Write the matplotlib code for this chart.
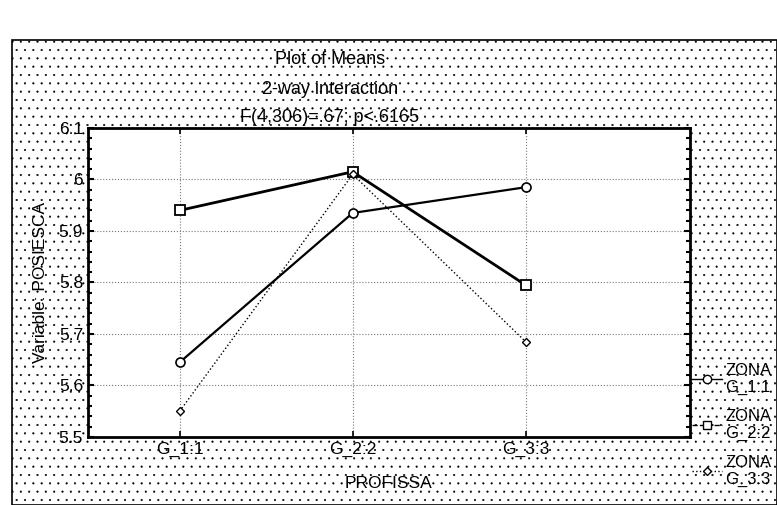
import numpy as np
import matplotlib.pyplot as plt
from matplotlib.patches import Rectangle
from matplotlib.lines import Line2D

# Plot of means data
categories = ['G_1:1', 'G_2:2', 'G_3:3']
zona_1 = [5.645, 5.935, 5.985]
zona_2 = [5.94, 6.015, 5.795]
zona_3 = [5.55, 6.01, 5.685]
series_labels = ['ZONA\nG_1:1', 'ZONA\nG_2:2', 'ZONA\nG_3:3']
y_ticks = [5.5, 5.6, 5.7, 5.8, 5.9, 6.0, 6.1]
y_tick_labels = ['5.5', '5.6', '5.7', '5.8', '5.9', '6', '6.1']

plt.rcParams['font.family'] = ['Liberation Sans', 'DejaVu Sans']
plt.rcParams['hatch.color'] = '#bdbdbd'
plt.rcParams['hatch.linewidth'] = 0.3

fig = plt.figure(figsize=(7.77, 5.05), dpi=100)

# dotted background frame like the scanned Statistica window
bg = Rectangle((12/777, 0.0), 1 - 12/777, 1 - 40/505, transform=fig.transFigure,
               facecolor='white', edgecolor='black', linewidth=1.2,
               hatch='..', zorder=-10)
fig.patches.append(bg)

ax = fig.add_axes([88/777, 1 - 437/505, (690 - 88)/777, (437 - 128)/505])
ax.set_facecolor('white')
x = np.arange(1, len(categories) + 1)

ax.plot(x, zona_1, color='black', lw=1.6, marker='o', ms=6.5, mfc='white', mec='black', mew=1.2, zorder=3)
ax.plot(x, zona_2, color='black', lw=2.0, marker='s', ms=6.5, mfc='white', mec='black', mew=1.3, zorder=3)
ax.plot(x, zona_3, color='black', lw=1.0, ls=':', marker='D', ms=4.5, mfc='white', mec='black', mew=1.0, zorder=3)

ax.set_xlim(0.47, 3.95)
ax.set_ylim(5.5, 6.1)
ax.set_xticks(x)
ax.set_xticklabels(categories, fontsize=12.5)
ax.set_yticks(y_ticks)
ax.set_yticklabels(y_tick_labels, fontsize=12.5)
ax.set_yticks(np.arange(5.5, 6.1001, 0.02), minor=True)
ax.tick_params(axis='y', which='both', direction='in', right=True, length=4, width=1.5)
ax.tick_params(axis='y', which='minor', length=3)
ax.tick_params(axis='x', direction='in', top=True, length=4, width=1.2)
ax.grid(True, color='#777777', ls=':', lw=0.8)
for s in ax.spines.values():
    s.set_linewidth(2.0)

ax.set_ylabel('Variable: POSIESCA', fontsize=12.5, labelpad=8)
ax.set_xlabel('PROFISSA', fontsize=12.5, labelpad=14)

fig.text(330/777, 1 - 60/505, 'Plot of Means', ha='center', va='center', fontsize=13)
fig.text(330/777, 1 - 90/505, '2-way interaction', ha='center', va='center', fontsize=13)
fig.text(330/777, 1 - 117/505, 'F(4,306)=.67; p<.6165', ha='center', va='center', fontsize=13)

handles = [
    Line2D([], [], color='black', lw=1.0, marker='o', ms=6, mfc='white', mec='black'),
    Line2D([], [], color='black', lw=1.0, ls='--', marker='s', ms=6, mfc='white', mec='black'),
    Line2D([], [], color='black', lw=1.0, ls=':', marker='D', ms=4, mfc='white', mec='black'),
]
leg = fig.legend(handles, series_labels, loc='center left', bbox_to_anchor=(692/777, 1 - 425/505),
                 frameon=False, fontsize=12, handlelength=1.8, handletextpad=0.2,
                 labelspacing=0.8, borderaxespad=0, borderpad=0)

fig.savefig('out.png', dpi=100)
